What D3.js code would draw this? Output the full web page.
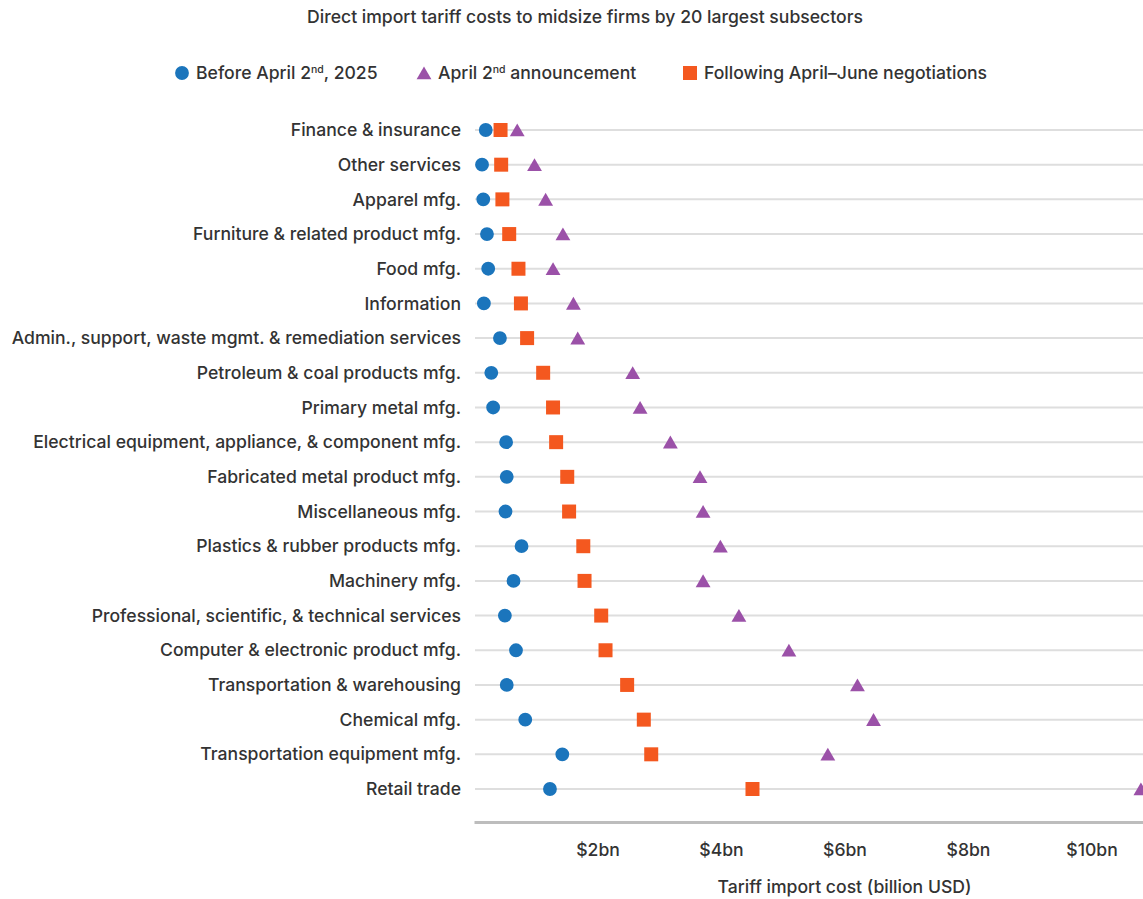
<!DOCTYPE html>
<html>
<head>
<meta charset="utf-8">
<style>
body {
  margin: 0;
  background: #fff;
  font-family: Inter, "Noto Sans", sans-serif;
}
text {
  fill: #333;
  font-weight: 500;
}
</style>
<script src="https://d3js.org/d3.v7.min.js"></script>
</head>
<body>
<script>
  const width = 1143;
  const height = 899;

  const categories = [
    "Finance & insurance",
    "Other services",
    "Apparel mfg.",
    "Furniture & related product mfg.",
    "Food mfg.",
    "Information",
    "Admin., support, waste mgmt. & remediation services",
    "Petroleum & coal products mfg.",
    "Primary metal mfg.",
    "Electrical equipment, appliance, & component mfg.",
    "Fabricated metal product mfg.",
    "Miscellaneous mfg.",
    "Plastics & rubber products mfg.",
    "Machinery mfg.",
    "Professional, scientific, & technical services",
    "Computer & electronic product mfg.",
    "Transportation & warehousing",
    "Chemical mfg.",
    "Transportation equipment mfg.",
    "Retail trade"
  ];

  // billion USD
  const beforeApril = [0.19, 0.13, 0.15, 0.21, 0.23, 0.16, 0.42, 0.28, 0.31, 0.52,
                       0.53, 0.51, 0.77, 0.64, 0.50, 0.68, 0.53, 0.83, 1.43, 1.23];
  const aprilAnnouncement = [0.70, 0.98, 1.16, 1.44, 1.28, 1.61, 1.68, 2.57, 2.69, 3.18,
                             3.66, 3.71, 3.99, 3.71, 4.29, 5.10, 6.21, 6.47, 5.73, 10.80];
  const afterNegotiations = [0.43, 0.44, 0.46, 0.57, 0.72, 0.76, 0.86, 1.12, 1.28, 1.33,
                             1.51, 1.54, 1.77, 1.79, 2.06, 2.13, 2.48, 2.75, 2.87, 4.51];

  const tickValues = [2, 4, 6, 8, 10];

  const series = [
    { name: "before", values: beforeApril, color: "#1b75bc", symbol: d3.symbolCircle, size: 150, dy: 0 },
    { name: "after", values: afterNegotiations, color: "#f4581f", symbol: d3.symbolSquare, size: 196, dy: 0 },
    { name: "april", values: aprilAnnouncement, color: "#9b51a8", symbol: d3.symbolTriangle, size: 95, dy: 2 }
  ];

  const fontSize = "17.6px";

  var svg = d3.select("body")
    .append("svg")
    .attr("width", width)
    .attr("height", height);

  var x = d3.scaleLinear()
    .domain([0, 12])
    .range([474, 1215]);

  var y = d3.scalePoint()
    .domain(categories)
    .range([130, 789]);

  // title
  svg.append("text")
    .attr("x", 585)
    .attr("y", 23)
    .attr("text-anchor", "middle")
    .style("font-size", fontSize)
    .text("Direct import tariff costs to midsize firms by 20 largest subsectors");

  // legend
  var legendItems = [
    { x: 182, color: "#1b75bc", symbol: d3.symbolCircle, size: 150, dy: 0, parts: ["Before April 2", "nd", ", 2025"] },
    { x: 424, color: "#9b51a8", symbol: d3.symbolTriangle, size: 95, dy: 2, parts: ["April 2", "nd", " announcement"] },
    { x: 690, color: "#f4581f", symbol: d3.symbolSquare, size: 196, dy: 0, parts: ["Following April\u2013June negotiations"] }
  ];

  var legend = svg.append("g");
  legendItems.forEach(function(item) {
    legend.append("path")
      .attr("d", d3.symbol().type(item.symbol).size(item.size))
      .attr("transform", "translate(" + item.x + "," + (73 + item.dy) + ")")
      .attr("fill", item.color);
    var t = legend.append("text")
      .attr("x", item.x + 14)
      .attr("y", 79)
      .style("font-size", fontSize);
    item.parts.forEach(function(p, i) {
      var span = t.append("tspan").text(p);
      if (i == 1) {
        span.attr("dy", -6).style("font-size", "10.5px");
      } else if (i == 2) {
        span.attr("dy", 6);
      }
    });
  });

  // gridlines
  svg.append("g")
    .selectAll("line")
    .data(categories)
    .enter()
    .append("line")
      .attr("x1", 475)
      .attr("x2", width)
      .attr("y1", function(d) { return y(d); })
      .attr("y2", function(d) { return y(d); })
      .attr("stroke", "#dedede")
      .attr("stroke-width", 2);

  // category labels
  svg.append("g")
    .selectAll("text")
    .data(categories)
    .enter()
    .append("text")
      .attr("x", 461)
      .attr("y", function(d) { return y(d); })
      .attr("dy", "0.35em")
      .attr("text-anchor", "end")
      .style("font-size", fontSize)
      .text(function(d) { return d; });

  // x axis
  var axis = svg.append("g")
    .attr("transform", "translate(0,822)")
    .call(d3.axisBottom(x)
      .tickValues(tickValues)
      .tickSize(0)
      .tickPadding(22)
      .tickFormat(function(d) { return "$" + d + "bn"; }));

  axis.select(".domain")
    .attr("stroke", "#bdbdbd")
    .attr("stroke-width", 3);

  axis.selectAll("text")
    .style("font-family", "Inter, sans-serif")
    .style("font-size", fontSize)
    .attr("fill", "#333");

  svg.append("text")
    .attr("x", x(6))
    .attr("y", 893)
    .attr("text-anchor", "middle")
    .style("font-size", fontSize)
    .text("Tariff import cost (billion USD)");

  // markers
  series.forEach(function(s) {
    svg.append("g")
      .selectAll("path")
      .data(s.values)
      .enter()
      .append("path")
        .attr("d", d3.symbol().type(s.symbol).size(s.size))
        .attr("transform", function(d, i) {
          return "translate(" + x(d) + "," + (y(categories[i]) + s.dy) + ")";
        })
        .attr("fill", s.color);
  });
</script>
</body>
</html>
